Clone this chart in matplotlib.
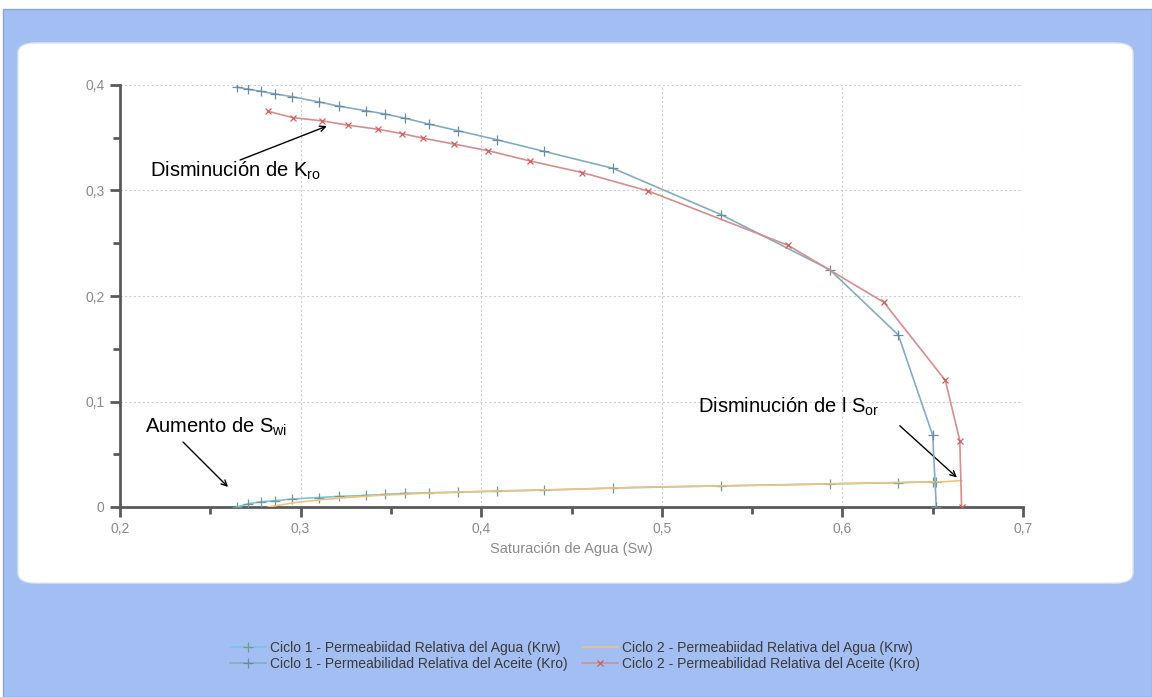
import matplotlib
matplotlib.use("Agg")
import matplotlib.pyplot as plt
from matplotlib.patches import Rectangle, FancyBboxPatch
from matplotlib.ticker import MultipleLocator, FuncFormatter

plt.rcParams['font.family'] = ['Liberation Sans', 'DejaVu Sans']
plt.rcParams['mathtext.fontset'] = 'custom'
plt.rcParams['mathtext.rm'] = 'Liberation Sans'
plt.rcParams['mathtext.it'] = 'Liberation Sans'

# ---- data ----
sw_c1 = [0.2646, 0.271, 0.278, 0.286, 0.295, 0.310, 0.321, 0.336, 0.347, 0.358,
         0.371, 0.387, 0.409, 0.435, 0.473, 0.533, 0.593, 0.631, 0.650, 0.652]
kro_c1 = [0.398, 0.396, 0.394, 0.3915, 0.389, 0.384, 0.380, 0.3756, 0.3725, 0.3684,
          0.363, 0.3567, 0.348, 0.337, 0.321, 0.277, 0.225, 0.163, 0.068, 0.0]
krw_c1 = [0.0, 0.003, 0.005, 0.006, 0.0075, 0.009, 0.010, 0.011, 0.012, 0.013,
          0.0135, 0.014, 0.015, 0.016, 0.018, 0.020, 0.022, 0.023, 0.024, 0.024]

sw_c2 = [0.282, 0.296, 0.312, 0.326, 0.343, 0.356, 0.368, 0.385, 0.404, 0.427,
         0.456, 0.4925, 0.570, 0.623, 0.657, 0.665, 0.666]
kro_c2 = [0.375, 0.369, 0.366, 0.362, 0.358, 0.354, 0.3495, 0.344, 0.3377, 0.328,
          0.317, 0.2995, 0.248, 0.194, 0.120, 0.063, 0.0]
krw_c2 = [0.0, 0.004, 0.007, 0.009, 0.011, 0.012, 0.013, 0.014, 0.015, 0.016,
          0.017, 0.019, 0.021, 0.023, 0.024, 0.025, 0.025]

labels = ["Ciclo 1 - Permeabiidad Relativa del Agua (Krw)",
          "Ciclo 1 - Permeabilidad Relativa del Aceite (Kro)",
          "Ciclo 2 - Permeabiidad Relativa del Agua (Krw)",
          "Ciclo 2 - Permeabilidad Relativa del Aceite (Kro)"]
x_label = "Saturación de Agua (Sw)"

W, H = 1152, 697
fig = plt.figure(figsize=(W / 100, H / 100), dpi=100)
fig.patch.set_facecolor('white')

def fx(px):
    return px / W

def fy(py):
    return 1 - py / H

# blue frame
fig.patches.append(Rectangle((fx(3), 0), fx(W) - fx(3), fy(9), transform=fig.transFigure,
                             facecolor='#a2bef3', edgecolor='#8fa6cf', linewidth=1.0, zorder=0))
# white rounded panel
fig.patches.append(FancyBboxPatch((fx(18), fy(583)), fx(1133) - fx(18), fy(43) - fy(583),
                                  boxstyle="round,pad=0,rounding_size=0.015",
                                  transform=fig.transFigure, facecolor='white',
                                  edgecolor='#dfe6f3', linewidth=1.0, zorder=1))

ax = fig.add_axes([fx(120), fy(507), fx(1023) - fx(120), fy(85) - fy(507)])
ax.set_facecolor('none')
ax.set_zorder(2)

ax.plot(sw_c1, krw_c1, color='#7cc3e3', lw=1.2, marker='+', ms=7, mew=0.9,
        mec='#6f9a92', label=labels[0], zorder=3)
ax.plot(sw_c1, kro_c1, color='#86abc0', lw=1.2, marker='+', ms=7.5, mew=0.9,
        mec='#6a8aa0', label=labels[1], zorder=4)
ax.plot(sw_c2, krw_c2, color='#f1c27a', lw=1.2, label=labels[2], zorder=3)
ax.plot(sw_c2, kro_c2, color='#d48e8c', lw=1.2, marker='x', ms=5, mew=0.9,
        mec='#c86262', label=labels[3], zorder=4)

ax.set_xlim(0.2, 0.7)
ax.set_ylim(0, 0.4)
ax.xaxis.set_major_locator(MultipleLocator(0.1))
ax.xaxis.set_minor_locator(MultipleLocator(0.05))
ax.yaxis.set_major_locator(MultipleLocator(0.1))
ax.yaxis.set_minor_locator(MultipleLocator(0.05))
fmt = FuncFormatter(lambda v, p: ('%g' % round(v, 2)).replace('.', ','))
ax.xaxis.set_major_formatter(fmt)
ax.yaxis.set_major_formatter(fmt)

ax.grid(True, which='major', color='#cfcfcf', linestyle=(0, (2, 2)), linewidth=0.8)
for s in ['top', 'right']:
    ax.spines[s].set_visible(False)
for s in ['left', 'bottom']:
    ax.spines[s].set_color('#5a5a5a')
    ax.spines[s].set_linewidth(2.0)
ax.tick_params(which='major', length=7, width=2, color='#5a5a5a', labelcolor='#8a8a8a',
               labelsize=10, pad=4)
ax.tick_params(which='minor', length=5, width=2, color='#5a5a5a')
ax.set_xlabel(x_label, color='#8a8a8a', fontsize=10.5, labelpad=4)

# annotations
arrow = dict(arrowstyle='->', color='black', lw=1.0, shrinkA=0, shrinkB=0)
fs = 14.5
ax.annotate('', xy=(0.3145, 0.361), xytext=(0.2665, 0.3289), arrowprops=arrow)
ax.text(0.2166, 0.319, 'Disminución de K$_{\\mathrm{ro}}$', fontsize=fs, va='center', ha='left')
ax.annotate('', xy=(0.2598, 0.019), xytext=(0.2349, 0.0616), arrowprops=arrow)
ax.text(0.2139, 0.0758, 'Aumento de S$_{\\mathrm{wi}}$', fontsize=fs, va='center', ha='left')
ax.annotate('', xy=(0.6634, 0.028), xytext=(0.6318, 0.077), arrowprops=arrow)
ax.text(0.5200, 0.0948, 'Disminución de l S$_{\\mathrm{or}}$', fontsize=fs, va='center', ha='left')

leg = fig.legend(loc='center', bbox_to_anchor=(fx(575), fy(656)), ncol=2, frameon=False,
                 fontsize=10, handlelength=2.6, columnspacing=1.0, labelspacing=0.1,
                 handletextpad=0.3)
for t in leg.get_texts():
    t.set_color('#3a3a3a')

fig.savefig('out.png', dpi=100, facecolor=fig.get_facecolor())
